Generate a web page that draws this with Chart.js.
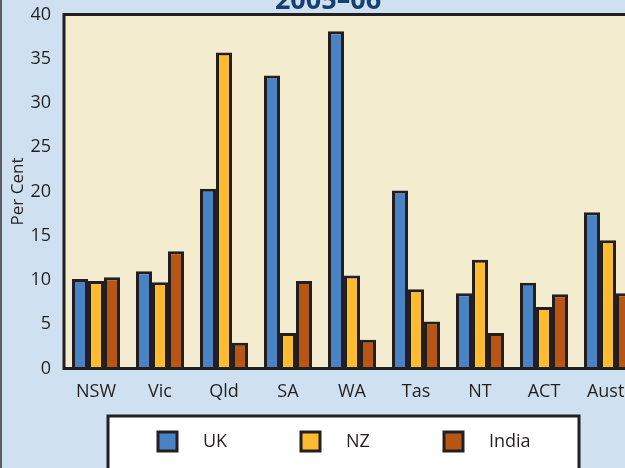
<!DOCTYPE html>
<html>
<head>
<meta charset="utf-8">
<script src="https://cdn.jsdelivr.net/npm/chart.js@4.4.1/dist/chart.umd.min.js"></script>
<style>
  html, body { margin: 0; padding: 0; }
  #frame {
    position: relative;
    width: 625px;
    height: 468px;
    overflow: hidden;
    background: #cfe1f1;
  }
  #frame::before {
    content: '';
    position: absolute;
    left: 0; top: 0; bottom: 0;
    width: 2px;
    background: #5a5d63;
    z-index: 2;
  }
  #wrap {
    position: absolute;
    left: 0;
    top: -40px;
    width: 656px;
    height: 508px;
  }
</style>
</head>
<body>
<div id="frame">
  <div id="wrap"><canvas id="chart"></canvas></div>
</div>
<script>
// values (per cent)
const states = ['NSW', 'Vic', 'Qld', 'SA', 'WA', 'Tas', 'NT', 'ACT', 'Aust.'];
const ukValues = [10.1, 11.0, 20.3, 33.1, 38.1, 20.1, 8.5, 9.7, 17.65];
const nzValues = [9.9, 9.75, 35.7, 4.0, 10.5, 8.95, 12.3, 6.95, 14.5];
const indiaValues = [10.3, 13.25, 2.9, 9.9, 3.25, 5.3, 4.0, 8.4, 8.5];
const seriesNames = ['UK', 'NZ', 'India'];
const seriesColors = ['#4a83c4', '#fdbb30', '#b85715'];
const chartTitle = '2005–06';

const INK = '#231f20';
const FONT = "'Open Sans', sans-serif";
const OFFSET_Y = 40; // canvas sits 40px above the frame

const backdrop = {
    id: 'backdrop',
    beforeDraw(chart) {
        const { ctx, chartArea: a } = chart;
        ctx.save();
        ctx.fillStyle = '#cfe1f1';
        ctx.fillRect(0, 0, chart.width, chart.height);
        ctx.fillStyle = '#f3ecce';
        ctx.fillRect(a.left, a.top, a.right - a.left, a.bottom - a.top);
        ctx.restore();
    },
    afterDatasetsDraw(chart) {
        const { ctx, chartArea: a } = chart;
        ctx.save();
        ctx.strokeStyle = INK;
        ctx.lineWidth = 3;
        ctx.strokeRect(a.left, a.top, a.right - a.left, a.bottom - a.top);
        // title, only its lower part shows inside the frame
        ctx.fillStyle = '#173f6f';
        ctx.font = 'bold 27px ' + FONT;
        ctx.textAlign = 'center';
        ctx.textBaseline = 'alphabetic';
        ctx.fillText(chartTitle, 328, 9 + OFFSET_Y);
        ctx.restore();
    }
};

// boxed legend under the plot
const boxLegend = {
    id: 'boxLegend',
    afterDraw(chart) {
        const ctx = chart.ctx;
        ctx.save();
        ctx.fillStyle = '#ffffff';
        ctx.strokeStyle = INK;
        ctx.lineWidth = 3;
        ctx.fillRect(108, 416 + OFFSET_Y, 471, 80);
        ctx.strokeRect(108, 416 + OFFSET_Y, 471, 80);

        chart.data.datasets.forEach((ds, i) => {
            const x = 158 + i * 143;
            const y = 432 + OFFSET_Y;
            ctx.fillStyle = ds.backgroundColor;
            ctx.fillRect(x, y, 19, 19);
            ctx.lineWidth = 3;
            ctx.strokeStyle = INK;
            ctx.strokeRect(x, y, 19, 19);
            ctx.fillStyle = INK;
            ctx.font = '18px ' + FONT;
            ctx.textBaseline = 'middle';
            ctx.textAlign = 'left';
            ctx.fillText(ds.label, x + 45, y + 10);
        });
        ctx.restore();
    }
};

const ctx = document.getElementById('chart').getContext('2d');
new Chart(ctx, {
    type: 'bar',
    data: {
        labels: states,
        datasets: [
            { label: seriesNames[0], data: ukValues, backgroundColor: seriesColors[0] },
            { label: seriesNames[1], data: nzValues, backgroundColor: seriesColors[1] },
            { label: seriesNames[2], data: indiaValues, backgroundColor: seriesColors[2] }
        ].map(ds => Object.assign(ds, {
            borderColor: INK,
            borderWidth: 3,
            categoryPercentage: 0.75,
            barPercentage: 1
        }))
    },
    options: {
        responsive: true,
        maintainAspectRatio: false,
        animation: false,
        layout: { padding: { left: 0, right: 16, top: 54.5, bottom: 59.5 } },
        scales: {
            x: {
                grid: { display: false, drawTicks: false },
                border: { display: false },
                ticks: {
                    color: INK,
                    padding: 13,
                    font: { family: FONT, size: 18 }
                },
                afterFit(scale) { scale.height = 40; }
            },
            y: {
                min: 0,
                max: 40,
                grid: { display: false, drawTicks: false },
                border: { display: false },
                ticks: {
                    stepSize: 5,
                    color: INK,
                    padding: 13,
                    font: { family: FONT, size: 18 }
                },
                title: {
                    display: true,
                    text: 'Per Cent',
                    color: INK,
                    padding: { top: 8, bottom: 0 },
                    font: { family: FONT, size: 17 }
                },
                afterFit(scale) { scale.width = 64; }
            }
        },
        plugins: {
            legend: { display: false },
            tooltip: { enabled: false },
            title: { display: false }
        }
    },
    plugins: [backdrop, boxLegend]
});
</script>
</body>
</html>
